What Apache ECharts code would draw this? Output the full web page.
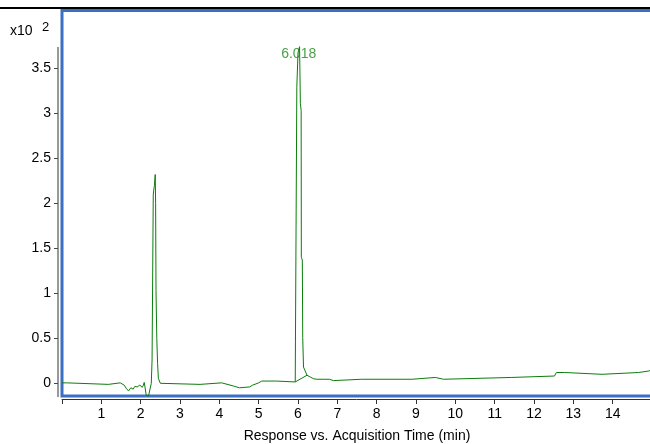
<!DOCTYPE html>
<html>
<head>
<meta charset="utf-8">
<script src="https://cdn.jsdelivr.net/npm/echarts@6/dist/echarts.min.js"></script>
<style>
html,body{margin:0;padding:0;background:#fff;overflow:hidden;}
#chart{width:650px;height:444px;}
</style>
</head>
<body>
<div id="chart"></div>
<script>
// Data (response in units of x10^2, time in minutes)
const times = [0.00,0.12,0.13,1.18,1.19,1.48,1.52,1.58,1.64,1.69,1.72,1.75,1.78,1.81,1.85,1.88,1.91,1.94,1.98,2.01,2.04,2.07,2.09,2.11,2.14,2.20,2.24,2.27,2.29,2.31,2.32,2.33,2.35,2.37,2.38,2.39,2.41,2.43,2.45,2.50,2.54,3.51,3.52,4.06,4.07,4.36,4.51,4.77,4.85,5.00,5.08,5.46,5.47,5.93,5.935,5.95,5.97,6.00,6.04,6.06,6.08,6.085,6.11,6.12,6.14,6.23,6.31,6.40,6.48,6.50,6.52,6.64,6.65,6.67,6.80,6.81,6.90,6.91,7.62,7.66,7.70,8.90,8.91,9.49,9.50,9.70,9.71,11.42,11.43,12.52,12.53,12.57,12.78,12.80,13.73,13.74,14.66,14.67,14.92,14.93,15.0];
const responses = [0.005,0.005,-0.012,-0.012,0.005,0.005,0.0,-0.02,-0.06,-0.085,-0.07,-0.05,-0.07,-0.065,-0.035,-0.02,-0.04,-0.045,-0.02,-0.01,-0.045,-0.02,0.01,-0.04,-0.13,-0.14,-0.13,0.0,0.26,0.28,2.09,2.14,2.2,2.32,2.0,1.03,0.5,0.22,0.055,0.0,-0.012,-0.012,0.005,0.005,-0.012,-0.03,-0.05,-0.04,-0.02,0.005,0.025,0.025,0.015,0.015,0.46,0.46,3.29,3.67,3.74,3.11,3.03,1.40,1.37,0.51,0.18,0.09,0.07,0.05,0.045,0.03,0.045,0.045,0.03,0.045,0.045,0.03,0.03,0.045,0.045,0.055,0.045,0.045,0.065,0.065,0.045,0.045,0.065,0.065,0.081,0.081,0.10,0.12,0.12,0.10,0.10,0.12,0.12,0.137,0.137,0.152,0.152];
const baselineTimes = [5.93, 6.23];
const baselineValues = [0.015, 0.09];
const peakTimes = [6.018];
const peakLabelValues = [3.66];
const peakLabels = ['6.018'];
const xTickValues = [0,1,2,3,4,5,6,7,8,9,10,11,12,13,14];
const xLabelValues = [1,2,3,4,5,6,7,8,9,10,11,12,13,14];
const yTickValues = [0,0.5,1,1.5,2,2.5,3,3.5];

const FONT = '"Liberation Sans", Arial, sans-serif';
const GREEN = '#0a7d0a';
const BLUE = '#3b6fc4';

const el = document.getElementById('chart');
const chart = echarts.init(el, null, {renderer:'canvas', width: 650, height: 444});
chart.setOption({
  animation: false,
  backgroundColor: '#fff',
  grid: {left: 62, right: -2, top: 10.5, bottom: 48, show: true, borderColor: BLUE, borderWidth: 3, backgroundColor: 'transparent', containLabel: false, outerBoundsMode: 'none'},
  xAxis: {
    type: 'value', min: 0, max: 15, offset: 3,
    name: 'Response vs. Acquisition Time (min)', nameLocation: 'middle', nameGap: 30,
    nameTextStyle: {fontFamily: FONT, fontSize: 14, color: '#000'},
    axisLine: {show: true, onZero: false, lineStyle: {color: '#333', width: 1}},
    axisTick: {show: true, length: 5, customValues: xTickValues, lineStyle: {color: '#333'}},
    axisLabel: {customValues: xLabelValues, fontFamily: FONT, fontSize: 14, color: '#000', margin: 8},
    splitLine: {show: false}
  },
  yAxis: {
    type: 'value', min: -0.141, max: 4.142, offset: 4,
    axisLine: {show: false, onZero: false},
    axisTick: {show: true, length: 4, customValues: yTickValues, lineStyle: {color: '#444'}},
    axisLabel: {customValues: yTickValues, fontFamily: FONT, fontSize: 14, color: '#000', margin: 7},
    splitLine: {show: false}
  },
  graphic: [
    {type: 'line', shape: {x1: 0, y1: 8, x2: 650, y2: 8}, style: {stroke: '#000', lineWidth: 2}, z: 10},
    {type: 'line', shape: {x1: 58, y1: 47, x2: 58, y2: 397}, style: {stroke: '#555', lineWidth: 1.2}, z: 10},
    {type: 'text', left: 10, top: 24, style: {text: 'x10', font: '14px ' + FONT, fill: '#000'}},
    {type: 'text', left: 42, top: 21, style: {text: '2', font: '13px ' + FONT, fill: '#000'}}
  ],
  series: [
    {
      type: 'line', data: times.map((t, i) => [t, responses[i]]),
      showSymbol: false, symbol: 'none', clip: true,
      lineStyle: {color: GREEN, width: 1}, z: 3
    },
    {
      type: 'line', data: baselineTimes.map((t, i) => [t, baselineValues[i]]),
      showSymbol: false, symbol: 'none', clip: true,
      lineStyle: {color: GREEN, width: 1}, z: 3
    },
    {
      type: 'scatter', data: peakTimes.map((t, i) => [t, peakLabelValues[i]]),
      symbolSize: 0,
      label: {show: true, position: 'inside', formatter: (p) => peakLabels[p.dataIndex], fontFamily: FONT, fontSize: 14, color: '#1a8a1a'},
      z: 5
    }
  ]
});
</script>
</body>
</html>
